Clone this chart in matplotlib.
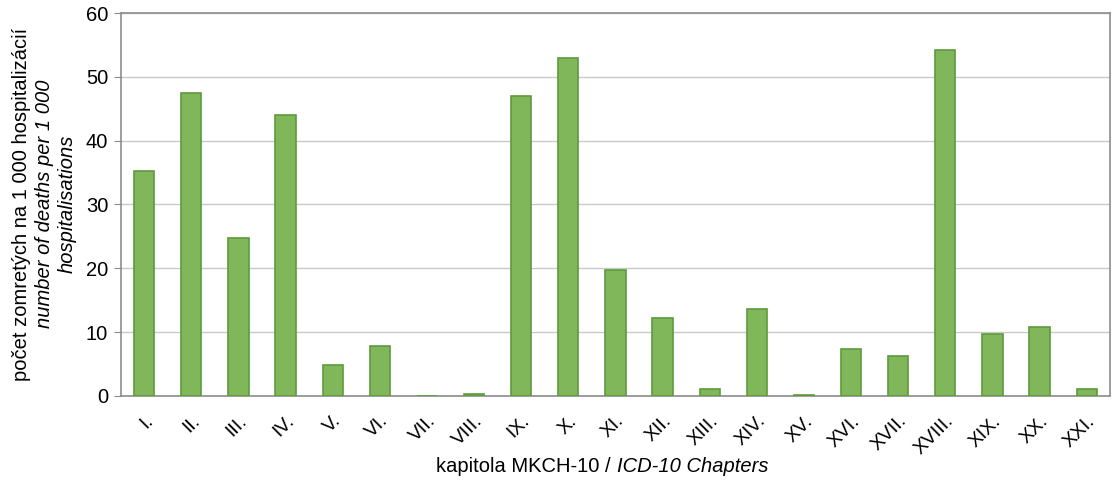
import matplotlib.pyplot as plt
import numpy as np

# ICD-10 chapters and deaths per 1 000 hospitalisations
chapters = ['I.', 'II.', 'III.', 'IV.', 'V.', 'VI.', 'VII.', 'VIII.', 'IX.', 'X.',
            'XI.', 'XII.', 'XIII.', 'XIV.', 'XV.', 'XVI.', 'XVII.', 'XVIII.', 'XIX.',
            'XX.', 'XXI.']
deaths = [35.2, 47.5, 24.7, 44.0, 4.9, 7.8, 0.0, 0.3, 47.0, 53.0,
          19.8, 12.2, 1.0, 13.6, 0.1, 7.4, 6.3, 54.3, 9.7, 10.8, 1.1]
y_ticks = [0, 10, 20, 30, 40, 50, 60]


def main() -> None:
    plt.rcParams['font.family'] = ['Liberation Sans', 'DejaVu Sans']

    fig = plt.figure(figsize=(11.17, 4.88), dpi=100)
    ax = fig.add_axes([0.108, 0.189, 0.886, 0.784])

    x = np.arange(len(chapters))
    ax.bar(x, deaths, width=0.43, color='#80b75a', edgecolor='#5e9a3c',
           linewidth=1.2, zorder=3)

    ax.set_xlim(-0.5, len(chapters) - 0.5)
    ax.set_ylim(0, 60)
    ax.set_yticks(y_ticks)
    ax.yaxis.grid(True, color='#c8c8c8', linewidth=1.0, zorder=0)
    ax.tick_params(axis='y', labelsize=14.5, length=5, color='#888888', pad=4)
    ax.tick_params(axis='x', length=0, pad=12)
    ax.set_xticks(x)
    ax.set_xticklabels(chapters, rotation=45, ha='right', rotation_mode='anchor',
                       fontsize=14)
    for s in ax.spines.values():
        s.set_color('#8c8c8c')
        s.set_linewidth(1.2)

    # y label: three lines, first upright, the rest italic
    yc = 1 - 204 / 488
    fig.text(0.019, yc, 'počet zomretých na 1 000 hospitalizácií', rotation=90,
             ha='center', va='center', fontsize=14.5)
    fig.text(0.040, yc, 'number of deaths per 1 000', rotation=90,
             ha='center', va='center', fontsize=14.5, style='italic')
    fig.text(0.060, yc, 'hospitalisations', rotation=90,
             ha='center', va='center', fontsize=14.5, style='italic')

    # x label: upright + italic part
    fig.text(0.552, 0.045, 'kapitola MKCH-10 / ', ha='right', va='center', fontsize=14.5)
    fig.text(0.552, 0.045, 'ICD-10 Chapters', ha='left', va='center', fontsize=14.5,
             style='italic')

    fig.savefig('out.png', dpi=100)


if __name__ == "__main__":
    main()
